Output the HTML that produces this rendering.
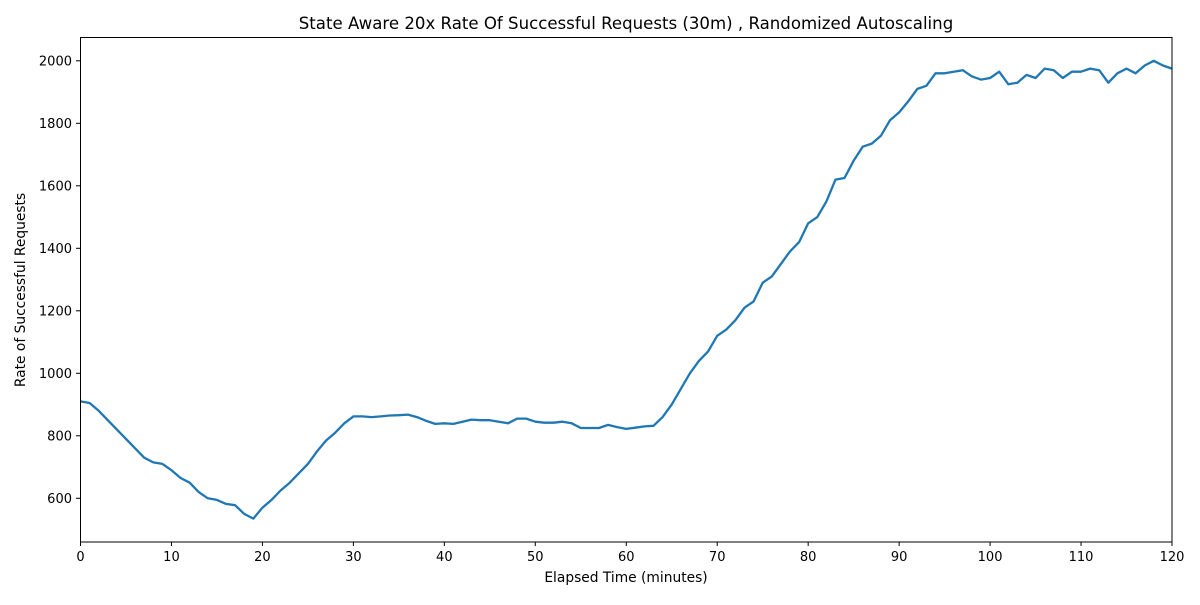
<!DOCTYPE html>
<html><head><meta charset="utf-8"><style>
body{margin:0;background:#fff;}
svg text{font-family:"DejaVu Sans","Liberation Sans",sans-serif;fill:#000;}
</style></head><body>
<svg width="1200" height="600" xmlns="http://www.w3.org/2000/svg">
<rect width="1200" height="600" fill="#fff"/>
<text x="626" y="29" font-size="16.6" text-anchor="middle">State Aware 20x Rate Of Successful Requests (30m) , Randomized Autoscaling</text>
<g id="ticks"></g>
<polyline id="series" fill="none" stroke="#1f77b4" stroke-width="2.3" stroke-linejoin="round"/>
<rect x="80.5" y="37.5" width="1091.5" height="504.5" fill="none" stroke="#000" stroke-width="1"/>
<text x="626" y="582" font-size="13.8" text-anchor="middle">Elapsed Time (minutes)</text>
<text transform="translate(25,290) rotate(-90)" font-size="13.8" text-anchor="middle">Rate of Successful Requests</text>
</svg>
<script>
const xTicks=[0,10,20,30,40,50,60,70,80,90,100,110,120];
const yTicks=[600,800,1000,1200,1400,1600,1800,2000];
const minutes=[];for(let i=0;i<=120;i++)minutes.push(i);
const rates=[910,905,880,850,820,790,760,730,715,710,690,665,650,620,600,595,582,578,550,535,570,595,625,650,680,710,750,785,810,840,862,862,860,862,865,866,868,860,848,838,840,838,845,852,850,850,845,840,855,855,845,842,842,845,840,825,825,825,835,828,822,826,830,832,860,900,950,1000,1040,1070,1120,1140,1170,1210,1230,1290,1310,1350,1390,1420,1480,1500,1550,1620,1625,1680,1725,1735,1760,1810,1835,1870,1910,1920,1960,1960,1965,1970,1950,1940,1945,1965,1925,1930,1955,1945,1975,1970,1945,1965,1965,1975,1970,1930,1960,1975,1960,1985,2000,1985,1975];
const X=v=>80.5+v*(1091.5/120);
const Y=v=>498.3-(v-600)*0.3125;
const ns="http://www.w3.org/2000/svg";
const g=document.getElementById('ticks');
function mk(t,a){const e=document.createElementNS(ns,t);for(const k in a)e.setAttribute(k,a[k]);g.appendChild(e);return e;}
xTicks.forEach(t=>{
 const l=mk('line',{x1:X(t),x2:X(t),y1:542,y2:546,stroke:'#000'});
 
 
 const s=mk('text',{x:X(t),y:561,'font-size':13,'text-anchor':'middle'});s.textContent=t;
 
 
});
yTicks.forEach(t=>{
 const l=mk('line',{x1:76,x2:80.5,y1:Y(t),y2:Y(t),stroke:'#000'});
 
 
 const s=mk('text',{x:72,y:Y(t)+4.5,'font-size':13,'text-anchor':'end'});s.textContent=t;
 
 
});
document.getElementById('series').setAttribute('points',minutes.map((m,i)=>X(m).toFixed(1)+','+Y(rates[i]).toFixed(1)).join(' '));
</script>
</body></html>
